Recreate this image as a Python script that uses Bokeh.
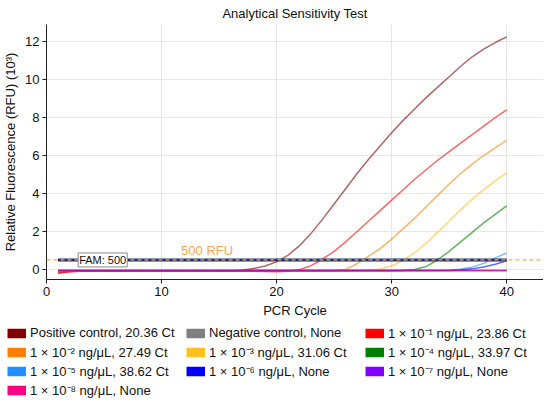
from bokeh.plotting import figure
from bokeh.layouts import column
from bokeh.models import Range1d, Span, Label, Legend, LegendItem, FixedTicker
from bokeh.embed import file_html
from bokeh.resources import INLINE

FONT = "Liberation Sans"

cycles = list(range(1, 41))

positive_control = [-0.2, -0.12, -0.08, -0.08, -0.08, -0.08, -0.08, -0.08, -0.08, -0.08,
                    -0.08, -0.08, -0.08, -0.08, -0.09, -0.08, -0.04, 0.05, 0.18, 0.4,
                    0.75, 1.25, 1.9, 2.65, 3.45, 4.25, 5.05, 5.8, 6.5, 7.2,
                    7.85, 8.45, 9.05, 9.6, 10.15, 10.7, 11.2, 11.6, 11.95, 12.25]
negative_control = [-0.05] * 40
dil_1e1 = [-0.18, -0.12, -0.1, -0.1, -0.1, -0.1, -0.1, -0.1, -0.1, -0.1,
           -0.1, -0.1, -0.1, -0.1, -0.1, -0.1, -0.1, -0.1, -0.11, -0.12,
           -0.1, -0.02, 0.2, 0.55, 0.95, 1.45, 2.0, 2.55, 3.1, 3.65,
           4.2, 4.75, 5.25, 5.75, 6.2, 6.65, 7.1, 7.55, 8.0, 8.4]
dil_1e2 = [-0.08] * 24 + [-0.07, 0.0, 0.3, 0.7, 1.1, 1.6, 2.15, 2.7, 3.3, 3.9,
                          4.5, 5.05, 5.55, 6.0, 6.4, 6.8]
dil_1e3 = [-0.07] * 27 + [-0.05, 0.02, 0.18, 0.48, 0.88, 1.38, 1.95, 2.55, 3.15,
                          3.7, 4.2, 4.65, 5.1]
dil_1e4 = [-0.07] * 30 + [-0.05, 0.0, 0.15, 0.51, 0.95, 1.45, 1.95, 2.45, 2.9, 3.35]
dil_1e5 = [-0.06] * 34 + [-0.04, 0.02, 0.12, 0.32, 0.61, 0.86]
dil_1e6 = [-0.06] * 35 + [-0.03, 0.03, 0.13, 0.27, 0.45]
dil_1e7 = [-0.06] * 40
dil_1e8 = [-0.05] * 40

series = [positive_control, negative_control, dil_1e1, dil_1e2, dil_1e3,
          dil_1e4, dil_1e5, dil_1e6, dil_1e7, dil_1e8]
labels = ["Positive control, 20.36 Ct", "Negative control, None",
          "1 × 10⁻¹ ng/μL, 23.86 Ct", "1 × 10⁻² ng/μL, 27.49 Ct",
          "1 × 10⁻³ ng/μL, 31.06 Ct", "1 × 10⁻⁴ ng/μL, 33.97 Ct",
          "1 × 10⁻⁵ ng/μL, 38.62 Ct", "1 × 10⁻⁶ ng/μL, None",
          "1 × 10⁻⁷ ng/μL, None", "1 × 10⁻⁸ ng/μL, None"]
colors = ["#800000", "#808080", "#ff0000", "#ff8000", "#ffc020",
          "#008000", "#1e90ff", "#0000ff", "#8000ff", "#ff0080"]

threshold = 0.5
fam_x = [1, 40]
x_ticks = [0, 10, 20, 30, 40]
y_ticks = [0, 2, 4, 6, 8, 10, 12]

p = figure(width=543, height=320, output_backend="svg", toolbar_location=None,
           x_range=Range1d(0, 43.2), y_range=Range1d(-0.53, 12.9),
           title="Analytical Sensitivity Test")
p.frame_align = False
p.outline_line_color = None
p.min_border_left = 0
p.min_border_right = 0
p.min_border_top = 24
p.min_border_bottom = 0
p.title.align = "center"
p.title.vertical_align = "bottom"
p.title.offset = 0
p.title.standoff = 7
p.title.text_font = FONT
p.title.text_font_size = "13px"
p.title.text_font_style = "normal"
p.title.text_color = "#111111"

for ax in (p.xaxis[0], p.yaxis[0]):
    ax.major_label_text_font = FONT
    ax.major_label_text_font_size = "13px"
    ax.major_label_text_color = "#111111"
    ax.axis_label_text_font = FONT
    ax.axis_label_text_font_size = "13px"
    ax.axis_label_text_font_style = "normal"
    ax.axis_label_text_color = "#111111"
    ax.axis_line_color = "#222222"
    ax.major_tick_line_color = "#222222"
    ax.major_tick_in = 0
    ax.major_tick_out = 4
    ax.minor_tick_line_color = None
    ax.major_label_standoff = 3
    ax.axis_label_standoff = 4
p.xaxis.axis_label = "PCR Cycle"
p.yaxis.axis_label = "Relative Fluorescence (RFU) (10³)"
p.xaxis.ticker = FixedTicker(ticks=x_ticks)
p.yaxis.ticker = FixedTicker(ticks=y_ticks)
p.xgrid.ticker = FixedTicker(ticks=x_ticks)
p.ygrid.ticker = FixedTicker(ticks=y_ticks)
p.grid.grid_line_color = "#e6e6e6"

for ys, col in zip(series, colors):
    p.line(cycles, ys, line_color=col, line_width=1.5, line_alpha=0.6)

p.line(fam_x, [threshold, threshold], line_color="#1c2f6b", line_width=3)
p.add_layout(Span(location=threshold, dimension="width", line_color="#ffa64d",
                  line_width=1.3, line_dash="4 3"))

p.add_layout(Label(x=2.75, y=threshold, text="FAM: 500", text_font=FONT,
                   text_font_size="11px", text_baseline="middle",
                   text_color="#111111", background_fill_color="white",
                   border_line_color="#888888", padding=1))
p.add_layout(Label(x=11.7, y=0.62, text="500 RFU", text_font=FONT,
                   text_font_size="13px", text_color="#ffa64d"))

# legend panel
lg = figure(width=543, height=80, output_backend="svg", toolbar_location=None,
            x_range=Range1d(0, 1), y_range=Range1d(0, 1))
lg.frame_align = False
lg.axis.visible = False
lg.grid.visible = False
lg.outline_line_color = None
lg.min_border_left = 0
lg.min_border_right = 0
lg.min_border_top = 0
lg.min_border_bottom = 0

items = []
for lab, col in zip(labels, colors):
    sw = lg.line([-1], [-1], line_color=col, line_width=9.5, line_cap="butt")
    items.append(LegendItem(label=lab, renderers=[sw]))

legend = Legend(items=items, orientation="horizontal", ncols=3,
                label_text_font=FONT, label_text_font_size="13px",
                label_text_color="#111111", glyph_width=19, glyph_height=12,
                label_standoff=4, label_width=156, label_height=19,
                spacing=0, padding=0, margin=0,
                border_line_color=None, background_fill_color=None,
                location=(7, 1))
lg.add_layout(legend)

layout = column(p, lg, spacing=0)
open("out.html", "w").write(file_html(layout, INLINE))
